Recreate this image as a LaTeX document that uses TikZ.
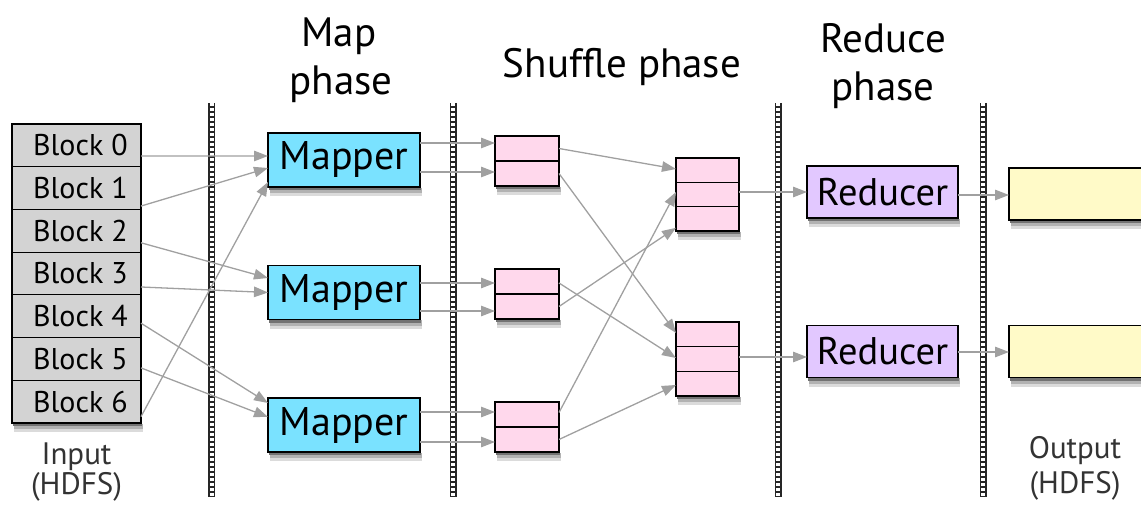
\documentclass[tikz,border=0pt]{standalone}
\usepackage{fontspec}
\setmainfont{PT Sans}
\usetikzlibrary{arrows.meta}

\definecolor{blockgray}{RGB}{211,211,211}
\definecolor{mapcyan}{RGB}{122,226,255}
\definecolor{shufpink}{RGB}{255,216,236}
\definecolor{redviolet}{RGB}{226,200,255}
\definecolor{outyellow}{RGB}{255,250,200}
\definecolor{linkgray}{RGB}{160,160,160}

\begin{document}
\begin{tikzpicture}[x=1pt,y=-1pt,
  box/.style={draw=black, line width=1.3pt, inner sep=0pt, outer sep=0pt},
  blockrow/.style={box, line width=1.1pt, fill=blockgray, minimum width=129pt,
      minimum height=42.71pt, font=\fontsize{30}{30}\selectfont},
  mapbox/.style={box, fill=mapcyan, minimum width=152pt,
      minimum height=54pt, font=\fontsize{40}{40}\selectfont},
  cell/.style={box, fill=shufpink, minimum width=64pt, minimum height=25pt},
  bigcell/.style={cell, minimum width=63pt, minimum height=24.5pt},
  redbox/.style={box, fill=redviolet, minimum width=151pt,
      minimum height=52pt, font=\fontsize{38.5}{38.5}\selectfont},
  outbox/.style={box, fill=outyellow, minimum width=141pt, minimum height=52pt},
  heading/.style={anchor=base, font=\fontsize{41}{41}\selectfont},
  iolabel/.style={anchor=base, text=black!80, font=\fontsize{31}{31}\selectfont},
  sepbar/.style={line width=7pt, draw=black!85},
  sepdots/.style={line width=4pt, draw=white, dash pattern=on 2.6pt off 2.4pt},
  shadefar/.style={fill=black!14},
  shademid/.style={fill=black!30},
  shadenear/.style={fill=black!55},
  link/.style={draw=linkgray, line width=1.3pt, -{Triangle[length=14pt,width=10.5pt]}}
]
\useasboundingbox (0,0) rectangle (1141,505);
\clip (0,0) rectangle (1141,505);

% phase separators
\foreach \sx in {211.5,453,778,983}{
  \draw[sepbar] (\sx,103) -- (\sx,497);
  \draw[sepdots] (\sx,103) -- (\sx,497);
}

% headings
\node[heading] (hmap)   at (339,47)  {Map};
\node[heading] (hmapb)  at (341,95)  {phase};
\node[heading] (hshuf)  at (622,78)  {Shuffle phase};
\node[heading] (hred)   at (883,53)  {Reduce};
\node[heading] (hredb)  at (883,101) {phase};

% input blocks
\foreach \i in {0,...,6}{
  \node[blockrow] (blk\i) at (76.5,{145.36+42.71*\i}) {\hspace*{8pt}Block \i};
}
\node[iolabel] (inlbl)  at (76.5,464) {Input};
\node[iolabel] (inlblb) at (76.5,494) {(HDFS)};

% mappers
\node[mapbox] (m1) at (344,160)   {Mapper};
\node[mapbox] (m2) at (344,292.5) {Mapper};
\node[mapbox] (m3) at (344,425)   {Mapper};

% map output partitions
\node[cell] (s1a) at (527,148.5) {};
\node[cell] (s1b) at (527,173.5) {};
\node[cell] (s2a) at (527,281.5) {};
\node[cell] (s2b) at (527,306.5) {};
\node[cell] (s3a) at (527,414.5) {};
\node[cell] (s3b) at (527,439.5) {};

% reducer inputs
\node[bigcell] (ra1) at (707.5,170.2) {};
\node[bigcell] (ra2) at (707.5,194.5) {};
\node[bigcell] (ra3) at (707.5,218.8) {};
\node[bigcell] (rb1) at (707.5,334.3) {};
\node[bigcell] (rb2) at (707.5,359)   {};
\node[bigcell] (rb3) at (707.5,383.7) {};

% reducers and output files
\node[redbox] (red1) at (882.5,192)   {Reducer};
\node[redbox] (red2) at (882.5,351.5) {Reducer};
\node[outbox] (out1) at (1079.5,194)   {};
\node[outbox] (out2) at (1079.5,351.5) {};
\node[iolabel] (outlbl)  at (1075,458) {Output};
\node[iolabel] (outlblb) at (1075,493) {(HDFS)};

% drop shadows under the bottom edge of every box
\foreach \bx in {blk6,m1,m2,m3,s1b,s2b,s3b,ra3,rb3,red1,red2,out1,out2}{
  \fill[shadefar]  ([xshift=2pt, yshift=-0.7pt]\bx.south west) rectangle ([xshift=2pt, yshift=-9pt]\bx.south east);
  \fill[shademid]  ([xshift=1.5pt, yshift=-0.7pt]\bx.south west) rectangle ([xshift=1.5pt, yshift=-6pt]\bx.south east);
  \fill[shadenear] ([xshift=1pt, yshift=-0.7pt]\bx.south west) rectangle ([xshift=1pt, yshift=-3pt]\bx.south east);
}

% blocks to mappers
\draw[link] ([yshift=-10.6pt]blk0.east) -- ([yshift=4pt]m1.west);
\draw[link] ([yshift=-18pt]blk1.east)   -- ([yshift=-8pt]m1.west);
\draw[link] ([yshift=-12pt]blk2.east)   -- ([yshift=14.5pt]m2.west);
\draw[link] ([yshift=-13.5pt]blk3.east) -- (m2.west);
\draw[link] ([yshift=-7pt]blk4.east)    -- ([yshift=22pt]m3.west);
\draw[link] ([yshift=-9pt]blk5.east)    -- ([yshift=8pt]m3.west);
\draw[link] ([yshift=-15pt]blk6.east)   -- ([yshift=-22pt]m1.west);

% mappers to partitions
\draw[link] ([yshift=17pt]m1.east)    -- ([yshift=5.5pt]s1a.west);
\draw[link] ([yshift=-12pt]m1.east)   -- ([yshift=1.5pt]s1b.west);
\draw[link] ([yshift=9.5pt]m2.east)   -- ([yshift=-1.5pt]s2a.west);
\draw[link] ([yshift=-18.5pt]m2.east) -- ([yshift=-4.5pt]s2b.west);
\draw[link] ([yshift=13pt]m3.east)    -- ([yshift=2.5pt]s3a.west);
\draw[link] ([yshift=-17pt]m3.east)   -- ([yshift=-2.5pt]s3b.west);

% shuffle
\draw[link] (s1a.east)                 -- ([yshift=1.2pt]ra1.west);
\draw[link] (s1b.east)                 -- ([yshift=1.3pt]rb1.west);
\draw[link] ([yshift=-1.5pt]s2a.east)  -- ([yshift=1pt]rb2.west);
\draw[link] (s2b.east)                 -- ([yshift=-9pt]ra3.west);
\draw[link] ([yshift=2pt]s3a.east)     -- ([yshift=2.5pt]ra2.west);
\draw[link] (s3b.east)                 -- ([yshift=-1.3pt]rb3.west);

% reduce and write out
\draw[link] ([yshift=2.5pt]ra2.east)   -- (red1.west);
\draw[link] ([yshift=2pt]rb2.east)     -- ([yshift=-5.5pt]red2.west);
\draw[link] ([yshift=-3pt]red1.east)   -- ([yshift=-1pt]out1.west);
\draw[link] ([yshift=-0.5pt]red2.east) -- ([yshift=-0.5pt]out2.west);
\end{tikzpicture}
\end{document}
